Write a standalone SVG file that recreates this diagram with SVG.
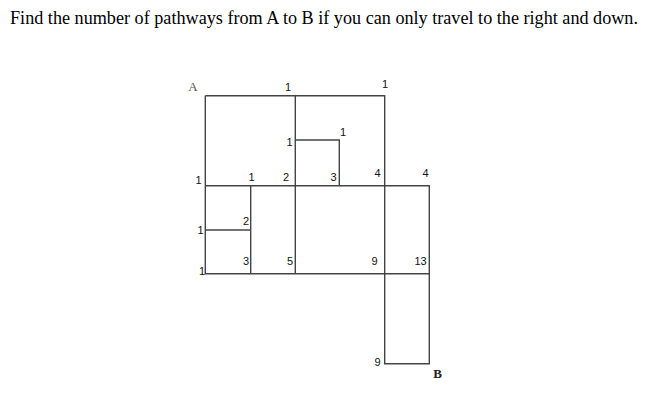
<svg xmlns="http://www.w3.org/2000/svg" width="656" height="408" viewBox="0 0 656 408">
<style>
.ln{fill:none;stroke:#444;stroke-width:1.4}
.n{font-family:"Liberation Sans",Arial,sans-serif;font-size:11px;fill:#111;text-anchor:middle}
.t{font-family:"Liberation Serif","Times New Roman",serif;font-size:18px;fill:#000}
.ab{font-family:"Liberation Serif","Times New Roman",serif;font-size:13px;text-anchor:middle}
</style>
<rect width="656" height="408" fill="#fff"/>
<text class="t" x="10" y="24" textLength="628" lengthAdjust="spacingAndGlyphs">Find the number of pathways from A to B if you can only travel to the right and down.</text>
<g id="connectors">
<path class="ln" d="M205.3,95.7H384.7V185.7"/>
<path class="ln" d="M205.3,95.7V273.7H429.3V185.7H205.3"/>
<path class="ln" d="M295.3,95.7V273.7"/>
<path class="ln" d="M295.3,140H339.3V185.7"/>
<path class="ln" d="M250.7,185.7V273.7"/>
<path class="ln" d="M205.3,230H250.7"/>
<path class="ln" d="M384.7,185.7V363.7H429.3V273.7"/>
</g>
<g id="labels">
<text class="ab" x="193" y="91" fill="#555">A</text>
<text class="ab" x="437.5" y="378" font-weight="bold" fill="#222">B</text>
<text class="n" x="288" y="91">1</text>
<text class="n" x="385" y="88">1</text>
<text class="n" x="289.5" y="146">1</text>
<text class="n" x="343" y="136">1</text>
<text class="n" x="198.5" y="183.5">1</text>
<text class="n" x="251.5" y="181">1</text>
<text class="n" x="286" y="181">2</text>
<text class="n" x="333.5" y="181">3</text>
<text class="n" x="377.5" y="176.5">4</text>
<text class="n" x="425.5" y="176.5">4</text>
<text class="n" x="246" y="224.5">2</text>
<text class="n" x="200.5" y="234">1</text>
<text class="n" x="246" y="265">3</text>
<text class="n" x="290" y="265">5</text>
<text class="n" x="374.5" y="265">9</text>
<text class="n" x="420.5" y="265">13</text>
<text class="n" x="202" y="274.5">1</text>
<text class="n" x="377.5" y="366">9</text>
</g>
</svg>
